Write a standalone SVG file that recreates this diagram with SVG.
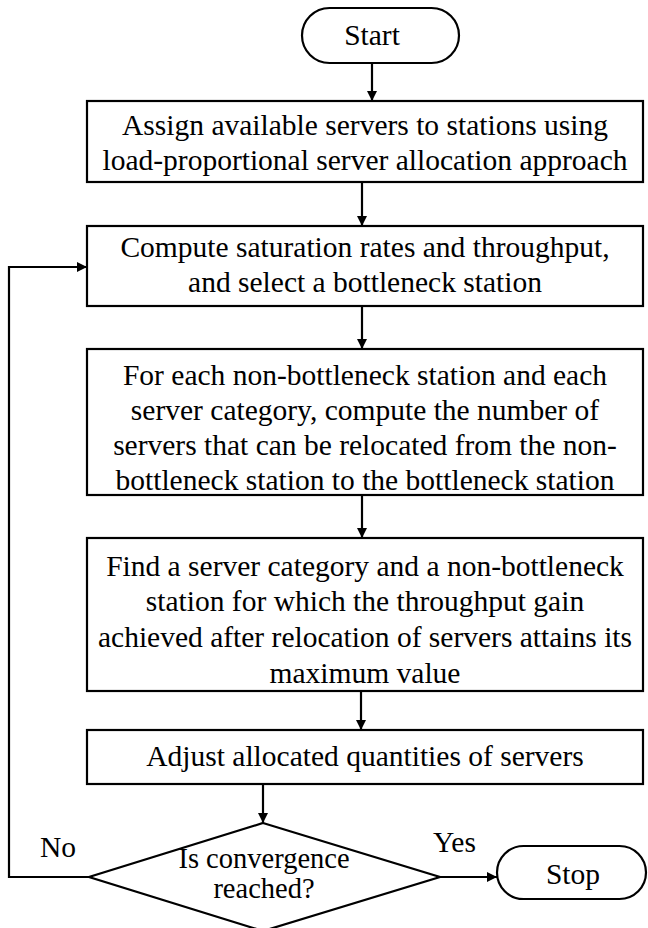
<svg xmlns="http://www.w3.org/2000/svg" width="648" height="928" viewBox="0 0 648 928">
  <style>
    .shape { fill: #ffffff; stroke: #000000; stroke-width: 2.2; }
    .line { fill: none; stroke: #000000; stroke-width: 2.2; }
    text { font-family: 'Liberation Serif', 'Times New Roman', serif; font-size: 29.5px; fill: #000000; }
    .label { text-anchor: middle; }
    .question { font-size: 28.5px; }
  </style>
  <defs>
    <marker id="arrow" viewBox="0 0 10 10" refX="10" refY="5" markerWidth="10" markerHeight="10" markerUnits="userSpaceOnUse" orient="auto">
      <path d="M0,0 L10,5 L0,10 Z" fill="#000000"/>
    </marker>
  </defs>
  <rect width="648" height="928" fill="#ffffff"/>

  <!-- connectors -->
  <g id="connectors">
    <line class="line" x1="372" y1="63" x2="372" y2="101" marker-end="url(#arrow)"/>
    <line class="line" x1="362" y1="182" x2="362" y2="226" marker-end="url(#arrow)"/>
    <line class="line" x1="362" y1="306" x2="362" y2="349" marker-end="url(#arrow)"/>
    <line class="line" x1="362" y1="495" x2="362" y2="538" marker-end="url(#arrow)"/>
    <line class="line" x1="361" y1="691" x2="361" y2="730" marker-end="url(#arrow)"/>
    <line class="line" x1="263" y1="784" x2="263" y2="823" marker-end="url(#arrow)"/>
    <polyline class="line" points="89,877 9,877 9,267 87,267" marker-end="url(#arrow)"/>
    <line class="line" x1="440" y1="877" x2="497" y2="877" marker-end="url(#arrow)"/>
    <text x="40" y="857">No</text>
    <text x="433" y="852">Yes</text>
  </g>

  <!-- start terminal -->
  <g id="start">
    <rect class="shape" x="302" y="8" width="157" height="55" rx="27.5" ry="27.5"/>
    <text class="label" x="372" y="45">Start</text>
  </g>

  <!-- step 1 -->
  <g id="assign">
    <rect class="shape" x="87" y="101" width="556" height="81"/>
    <text class="label" x="365" y="135">Assign available servers to stations using</text>
    <text class="label" x="365" y="170">load-proportional server allocation approach</text>
  </g>

  <!-- step 2 -->
  <g id="compute">
    <rect class="shape" x="87" y="226" width="556" height="80"/>
    <text class="label" x="365" y="257">Compute saturation rates and throughput,</text>
    <text class="label" x="365" y="292">and select a bottleneck station</text>
  </g>

  <!-- step 3 -->
  <g id="relocatable">
    <rect class="shape" x="87" y="349" width="556" height="146"/>
    <text class="label" x="365" y="385">For each non-bottleneck station and each</text>
    <text class="label" x="365" y="420">server category, compute the number of</text>
    <text class="label" x="365" y="455">servers that can be relocated from the non-</text>
    <text class="label" x="365" y="490">bottleneck station to the bottleneck station</text>
  </g>

  <!-- step 4 -->
  <g id="find">
    <rect class="shape" x="87" y="538" width="556" height="153"/>
    <text class="label" x="365" y="576">Find a server category and a non-bottleneck</text>
    <text class="label" x="365" y="611">station for which the throughput gain</text>
    <text class="label" x="365" y="647">achieved after relocation of servers attains its</text>
    <text class="label" x="365" y="683">maximum value</text>
  </g>

  <!-- step 5 -->
  <g id="adjust">
    <rect class="shape" x="87" y="730" width="556" height="54"/>
    <text class="label" x="365" y="766">Adjust allocated quantities of servers</text>
  </g>

  <!-- decision -->
  <g id="decision">
    <polygon class="shape" points="263,823 440,877 263,931 89,877"/>
    <text class="label question" x="264" y="868">Is convergence</text>
    <text class="label question" x="264" y="898">reached?</text>
  </g>

  <!-- stop terminal -->
  <g id="stop">
    <rect class="shape" x="497" y="846" width="149" height="53" rx="26.5" ry="26.5"/>
    <text class="label" x="573" y="884">Stop</text>
  </g>
</svg>
